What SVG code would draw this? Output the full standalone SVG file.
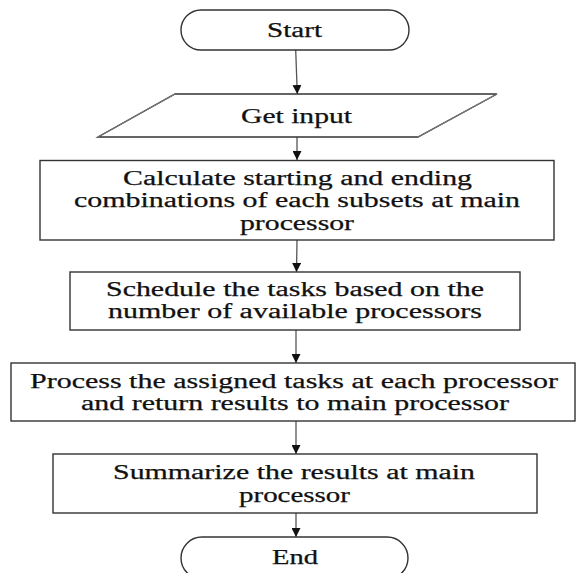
<svg xmlns="http://www.w3.org/2000/svg" width="576" height="573" viewBox="0 0 576 573">
  <defs>
    <marker id="arrow" viewBox="0 0 10 10" refX="10" refY="5" markerWidth="9" markerHeight="9" markerUnits="userSpaceOnUse" orient="auto">
      <path d="M0,0 L10,5 L0,10 Z" fill="#111"/>
    </marker>
  </defs>
  <style>
    .shape { fill: #fff; stroke: #333; stroke-width: 1.4; }
    .slant { stroke: #777; stroke-width: 1.4; fill: none; }
    .lbl { font-family: "Liberation Serif", "Times New Roman", serif; font-size: 20.5px; fill: #111; stroke: #111; stroke-width: 0.25; }
    .conn line { stroke: #555; stroke-width: 1.3; marker-end: url(#arrow); }
  </style>
  <rect width="576" height="573" fill="#fff"/>

  <g id="connectors" class="conn">
    <line x1="295.7" y1="50" x2="297.3" y2="94"/>
    <line x1="297" y1="137" x2="297" y2="160"/>
    <line x1="297" y1="240" x2="296.5" y2="272"/>
    <line x1="296" y1="330" x2="296" y2="363"/>
    <line x1="296" y1="421" x2="296" y2="454"/>
    <line x1="296" y1="513" x2="296" y2="537"/>
  </g>

  <g id="start">
    <rect class="shape" x="181" y="10" width="228" height="40" rx="20" ry="20"/>
    <text class="lbl" x="267" y="37" textLength="55" lengthAdjust="spacingAndGlyphs">Start</text>
  </g>

  <g id="get-input">
    <polygon class="shape" points="175,94 497,94 418,137 98,137"/>
    <line class="slant" x1="98" y1="137" x2="175" y2="94"/>
    <line class="slant" x1="418" y1="137" x2="497" y2="94"/>
    <text class="lbl" x="241" y="123" textLength="111" lengthAdjust="spacingAndGlyphs">Get input</text>
  </g>

  <g id="calculate">
    <rect class="shape" x="40" y="160.5" width="514" height="79.5"/>
    <text class="lbl" x="123" y="185" textLength="349" lengthAdjust="spacingAndGlyphs">Calculate starting and ending</text>
    <text class="lbl" x="74" y="207" textLength="446" lengthAdjust="spacingAndGlyphs">combinations  of each subsets at main</text>
    <text class="lbl" x="240" y="230" textLength="114" lengthAdjust="spacingAndGlyphs">processor</text>
  </g>

  <g id="schedule">
    <rect class="shape" x="70" y="272" width="450" height="58"/>
    <text class="lbl" x="106" y="296" textLength="378" lengthAdjust="spacingAndGlyphs">Schedule  the tasks based  on the</text>
    <text class="lbl" x="108" y="318" textLength="374" lengthAdjust="spacingAndGlyphs">number  of available processors</text>
  </g>

  <g id="process">
    <rect class="shape" x="11" y="363" width="564" height="58"/>
    <text class="lbl" x="30" y="388" textLength="528" lengthAdjust="spacingAndGlyphs">Process the assigned  tasks at each processor</text>
    <text class="lbl" x="81" y="410" textLength="428" lengthAdjust="spacingAndGlyphs">and return results to main processor</text>
  </g>

  <g id="summarize">
    <rect class="shape" x="53" y="454" width="484" height="59"/>
    <text class="lbl" x="113" y="479" textLength="362" lengthAdjust="spacingAndGlyphs">Summarize  the results at main</text>
    <text class="lbl" x="239" y="502" textLength="111" lengthAdjust="spacingAndGlyphs">processor</text>
  </g>

  <g id="end">
    <rect class="shape" x="181" y="537" width="227" height="42" rx="21" ry="21"/>
    <text class="lbl" x="272" y="564" textLength="46" lengthAdjust="spacingAndGlyphs">End</text>
  </g>
</svg>
